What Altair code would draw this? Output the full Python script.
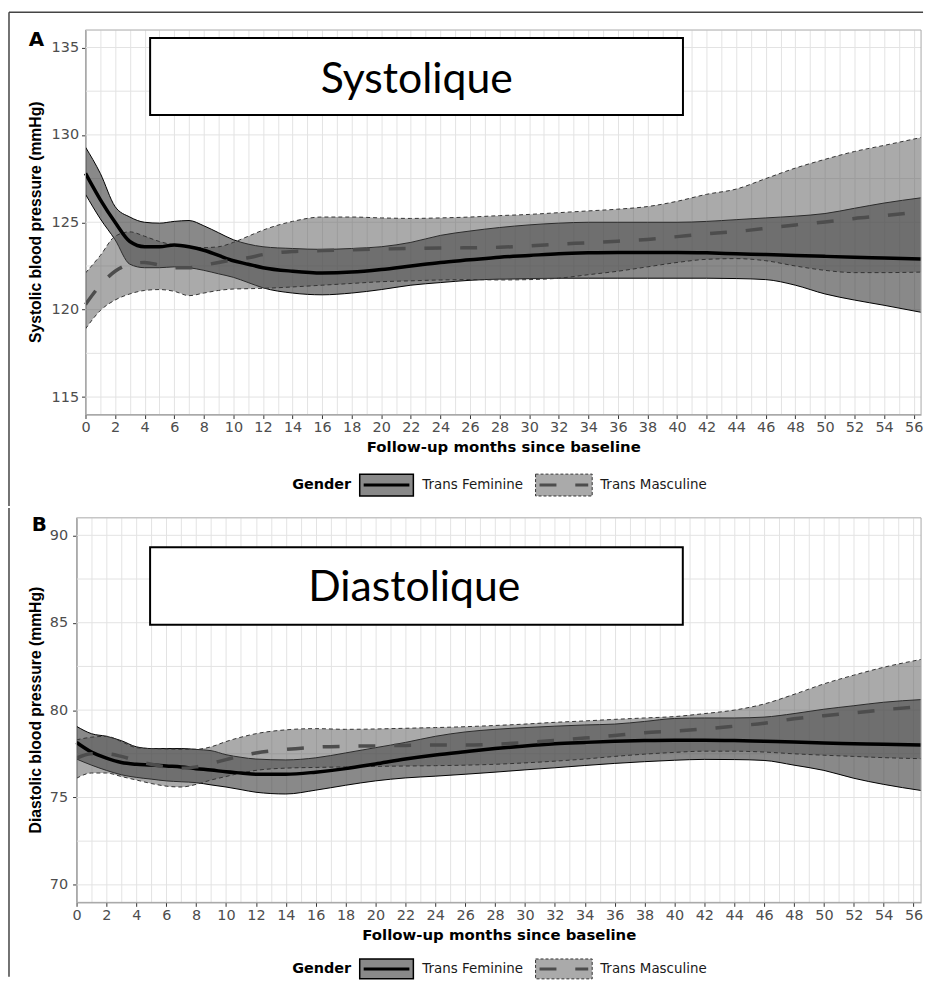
import altair as alt
import pandas as pd

# ---------------- data ----------------
months = [0, 1, 2, 3, 4, 5, 6, 7, 8, 9, 10, 11, 12, 14, 16, 18, 20, 22, 24, 26, 28,
          30, 32, 34, 36, 38, 40, 42, 44, 46, 48, 50, 52, 54, 56.5]

genders = ["Trans Feminine", "Trans Masculine"]
legend_title = "Gender"
x_title = "Follow-up months since baseline"

# Panel A : systolic
a_tf_mean = [127.8, 126.3, 125.0, 123.9, 123.6, 123.6, 123.7, 123.6, 123.4, 123.1, 122.8, 122.6, 122.4,
             122.2, 122.1, 122.15, 122.3, 122.5, 122.7, 122.85, 123.0, 123.1, 123.2, 123.25, 123.27,
             123.27, 123.27, 123.25, 123.2, 123.15, 123.1, 123.05, 123.0, 122.95, 122.9]
a_tf_hi = [129.3, 127.8, 125.9, 125.3, 125.0, 124.95, 125.05, 125.1, 124.8, 124.4, 124.0, 123.75, 123.6,
           123.5, 123.45, 123.5, 123.6, 123.85, 124.25, 124.5, 124.7, 124.85, 124.95, 125.0, 125.0,
           125.0, 125.0, 125.05, 125.15, 125.25, 125.35, 125.5, 125.8, 126.1, 126.4]
a_tf_lo = [126.6, 125.2, 124.0, 122.6, 122.4, 122.4, 122.45, 122.4, 122.25, 122.05, 121.85, 121.55, 121.25,
           120.95, 120.85, 120.95, 121.15, 121.4, 121.55, 121.68, 121.75, 121.78, 121.8, 121.8, 121.8,
           121.8, 121.8, 121.8, 121.78, 121.72, 121.4, 120.9, 120.55, 120.25, 119.85]
a_tm_mean = [120.3, 121.4, 122.2, 122.6, 122.7, 122.55, 122.4, 122.4, 122.55, 122.7, 122.85, 122.97, 123.15,
             123.33, 123.38, 123.43, 123.47, 123.5, 123.53, 123.54, 123.57, 123.65, 123.75, 123.83, 123.92,
             124.02, 124.18, 124.34, 124.47, 124.65, 124.85, 125.02, 125.22, 125.38, 125.6]
a_tm_hi = [122.1, 123.1, 124.2, 124.45, 124.2, 123.9, 123.7, 123.6, 123.55, 123.6, 123.85, 124.2, 124.55,
           125.05, 125.3, 125.3, 125.25, 125.22, 125.25, 125.3, 125.38, 125.45, 125.55, 125.65, 125.75,
           125.9, 126.2, 126.6, 126.9, 127.5, 128.1, 128.6, 129.05, 129.4, 129.85]
a_tm_lo = [118.9, 119.95, 120.55, 120.9, 121.1, 121.15, 121.05, 120.8, 120.95, 121.1, 121.18, 121.2, 121.22,
           121.3, 121.4, 121.5, 121.6, 121.65, 121.7, 121.72, 121.7, 121.72, 121.8, 122.0, 122.2,
           122.45, 122.7, 122.88, 122.92, 122.8, 122.5, 122.25, 122.12, 122.12, 122.15]

# Panel B : diastolic
b_tf_mean = [78.15, 77.6, 77.25, 77.0, 76.9, 76.86, 76.8, 76.75, 76.65, 76.57, 76.47, 76.4, 76.33,
             76.33, 76.45, 76.65, 76.92, 77.2, 77.43, 77.62, 77.8, 77.95, 78.07, 78.15, 78.22,
             78.26, 78.28, 78.28, 78.26, 78.22, 78.18, 78.12, 78.08, 78.04, 78.0]
b_tf_hi = [79.07, 78.65, 78.5, 78.25, 77.9, 77.8, 77.8, 77.8, 77.75, 77.68, 77.45, 77.3, 77.2,
           77.15, 77.27, 77.55, 77.85, 78.15, 78.5, 78.75, 78.9, 79.0, 79.08, 79.15, 79.2,
           79.35, 79.52, 79.55, 79.55, 79.6, 79.8, 80.05, 80.25, 80.45, 80.6]
b_tf_lo = [77.2, 76.85, 76.55, 76.3, 76.15, 76.05, 75.95, 75.9, 75.85, 75.72, 75.6, 75.45, 75.3,
           75.2, 75.42, 75.7, 75.95, 76.12, 76.22, 76.33, 76.45, 76.58, 76.7, 76.83, 76.95,
           77.05, 77.13, 77.18, 77.17, 77.12, 76.85, 76.55, 76.1, 75.75, 75.4]
b_tm_mean = [77.25, 77.5, 77.5, 77.35, 77.1, 76.9, 76.75, 76.68, 76.75, 76.95, 77.17, 77.38, 77.55,
             77.75, 77.88, 77.93, 77.95, 77.98, 78.0, 78.0, 78.05, 78.14, 78.26, 78.4, 78.55,
             78.7, 78.8, 78.92, 79.08, 79.25, 79.5, 79.68, 79.84, 80.02, 80.2]
b_tm_hi = [78.3, 78.45, 78.5, 78.2, 77.85, 77.8, 77.78, 77.76, 77.76, 77.9, 78.2, 78.45, 78.65,
           78.87, 78.94, 78.9, 78.92, 78.96, 79.0, 79.05, 79.12, 79.2, 79.3, 79.38, 79.47,
           79.55, 79.63, 79.8, 80.0, 80.35, 80.9, 81.5, 82.0, 82.45, 82.9]
b_tm_lo = [76.1, 76.4, 76.4, 76.2, 76.0, 75.8, 75.65, 75.6, 75.75, 76.0, 76.2, 76.4, 76.55,
           76.68, 76.72, 76.75, 76.78, 76.8, 76.82, 76.85, 76.9, 76.98, 77.08, 77.2, 77.35,
           77.48, 77.58, 77.65, 77.65, 77.6, 77.5, 77.42, 77.35, 77.28, 77.22]

# annotation boxes (data coordinates)
ann_a = {"x": [4.37], "x2": [40.4], "y": [135.55], "y2": [131.14], "tx": [22.4], "ty": [132.38],
         "label": ["Systolique"]}
ann_b = {"x": [4.92], "x2": [40.56], "y": [89.32], "y2": [84.89], "tx": [22.6], "ty": [86.25],
         "label": ["Diastolique"]}


def long_df(tf_mean, tf_lo, tf_hi, tm_mean, tm_lo, tm_hi):
    rows = []
    for g, mean, lo, hi in ((genders[0], tf_mean, tf_lo, tf_hi), (genders[1], tm_mean, tm_lo, tm_hi)):
        for i, m in enumerate(months):
            rows.append({"month": m, "gender": g, "mean": mean[i], "lo": lo[i], "hi": hi[i]})
    return pd.DataFrame(rows)


df_a = long_df(a_tf_mean, a_tf_lo, a_tf_hi, a_tm_mean, a_tm_lo, a_tm_hi)
df_b = long_df(b_tf_mean, b_tf_lo, b_tf_hi, b_tm_mean, b_tm_lo, b_tm_hi)
one = pd.DataFrame({"k": [0]})

# ---------------- styles ----------------
W, H = 841, 387
TF_FILL, TF_OP = "#333333", 0.58
TM_FILL, TM_OP = "#555555", 0.5
GRID = "#e3e3e3"
GSTYLE = {
    genders[0]: dict(fill=TF_FILL, op=TF_OP, edge="#000000", edash=None, line="#000000", ldash=None),
    genders[1]: dict(fill=TM_FILL, op=TM_OP, edge="#333333", edash=[4, 3], line="#4d4d4d", ldash=[17, 19]),
}


def panel(df, ann, ydom, ylab_step, ytitle, x0, ylab_pad, letter, letter_x, letter_y,
          xtitle_y, leg, frame):
    # x0: left edge of the data rectangle relative to the group origin (<= 0)
    xs = alt.Scale(domain=[0, 56.5], nice=False, zero=False, range=[x0, W])
    ys = alt.Scale(domain=ydom, nice=False, zero=False)
    yvals = []
    v = ydom[0] + 1
    while v <= ydom[1] - 1 + 1e-9:
        yvals.append(round(v, 2))
        v += 2.5
    xaxis = alt.Axis(
        values=list(range(0, 57)),
        labelExpr="datum.value % 2 === 0 ? datum.label : ''",
        tickColor=alt.condition("datum.value % 2 !== 0", alt.value("transparent"), alt.value("#333333")),
        tickSize=4, labelPadding=2, labelFont="DejaVu Sans", labelFontSize=14.5, labelColor="#4d4d4d",
        labelFlush=False, labelOverlap=False, grid=True, gridColor=GRID, gridWidth=1,
        domainColor="#888888", titleFont="DejaVu Sans", titleFontSize=15, titleFontWeight="bold",
        titleColor="#000000", titleBaseline="alphabetic", titleY=xtitle_y)
    yaxis = alt.Axis(
        values=yvals, offset=-x0,
        labelExpr="datum.value %% %d === 0 ? datum.label : ''" % ylab_step,
        tickColor=alt.condition("datum.value %% %d !== 0" % ylab_step, alt.value("transparent"),
                                alt.value("#333333")),
        tickSize=4, labelPadding=ylab_pad, labelFont="DejaVu Sans", labelFontSize=14.5, labelColor="#4d4d4d",
        labelOverlap=False, grid=False, domainColor="#888888")

    def X(f):
        return alt.X(f, type="quantitative", scale=xs, axis=xaxis, title=x_title)

    def Y(f):
        return alt.Y(f, type="quantitative", scale=ys, axis=yaxis, title=None)

    layers = []
    # horizontal grid lines (major and minor) across the data rectangle
    gdf = pd.DataFrame({"gy": yvals})
    layers.append(alt.Chart(gdf).mark_rule(color=GRID, strokeWidth=1)
                  .encode(y=Y("gy"), x=alt.value(x0), x2=alt.value(W)))

    base = alt.Chart(df)
    for g in genders:
        s = GSTYLE[g]
        sub = base.transform_filter(alt.datum.gender == g)
        layers.append(sub.mark_area(interpolate="monotone", color=s["fill"], opacity=s["op"])
                      .encode(x=X("month"), y=Y("lo"), y2=alt.Y2("hi")))
        kw = dict(interpolate="monotone", color=s["edge"], strokeWidth=1)
        if s["edash"]:
            kw["strokeDash"] = s["edash"]
        for f in ("lo", "hi"):
            layers.append(sub.mark_line(**kw).encode(x=X("month"), y=Y(f)))
    for g in genders:
        s = GSTYLE[g]
        sub = base.transform_filter(alt.datum.gender == g)
        kw = dict(interpolate="monotone", color=s["line"], strokeWidth=3.5)
        if s["ldash"]:
            kw["strokeDash"] = s["ldash"]
        layers.append(sub.mark_line(**kw).encode(x=X("month"), y=Y("mean")))

    adf = pd.DataFrame(ann)
    layers.append(alt.Chart(adf).mark_rect(fill="white", stroke="black", strokeWidth=2)
                  .encode(x=X("x"), x2=alt.X2("x2"), y=Y("y"), y2=alt.Y2("y2")))
    layers.append(alt.Chart(adf).mark_text(font="Lato", fontSize=43, align="center",
                                           baseline="alphabetic", color="black")
                  .encode(x=X("tx"), y=Y("ty"), text="label:N"))

    # panel border
    layers.append(alt.Chart(one).mark_rect(fillOpacity=0, stroke="#a8a8a8", strokeWidth=1)
                  .encode(x=alt.value(x0), x2=alt.value(W), y=alt.value(0), y2=alt.value(H)))

    # y axis title
    layers.append(alt.Chart(one).mark_text(text=ytitle, angle=270, font="Liberation Sans", fontWeight="bold",
                                           fontSize=15.8, align="center", baseline="middle", color="black")
                  .encode(x=alt.value(-50), y=alt.value(H / 2)))

    # panel letter
    layers.append(alt.Chart(one).mark_text(text=letter, font="DejaVu Sans", fontWeight="bold", fontSize=20,
                                           align="left", baseline="alphabetic", color="black")
                  .encode(x=alt.value(letter_x), y=alt.value(letter_y)))

    # legend (guide drawn below the panel)
    bx1, bx2, tx1, bx3, bx4, tx2, gx, y1, y2 = leg
    ym = (y1 + y2) / 2
    layers.append(alt.Chart(one).mark_text(text=legend_title, font="DejaVu Sans", fontWeight="bold",
                                           fontSize=14.5, align="left", baseline="middle", color="black")
                  .encode(x=alt.value(gx), y=alt.value(ym)))
    layers.append(alt.Chart(one).mark_rect(fill=TF_FILL, fillOpacity=TF_OP, stroke="black", strokeWidth=1.5)
                  .encode(x=alt.value(bx1), x2=alt.value(bx2), y=alt.value(y1), y2=alt.value(y2)))
    layers.append(alt.Chart(one).mark_rule(color="black", strokeWidth=3)
                  .encode(x=alt.value(bx1 + 4), x2=alt.value(bx2 - 4), y=alt.value(ym)))
    layers.append(alt.Chart(one).mark_text(text=genders[0], font="DejaVu Sans", fontSize=13.5,
                                           align="left", baseline="middle", color="#1a1a1a")
                  .encode(x=alt.value(tx1), y=alt.value(ym)))
    layers.append(alt.Chart(one).mark_rect(fill=TM_FILL, fillOpacity=TM_OP, stroke="#333333", strokeWidth=1,
                                           strokeDash=[3, 2])
                  .encode(x=alt.value(bx3), x2=alt.value(bx4), y=alt.value(y1), y2=alt.value(y2)))
    layers.append(alt.Chart(one).mark_rule(color="#4d4d4d", strokeWidth=3, strokeDash=[17, 19])
                  .encode(x=alt.value(bx3 + 4), x2=alt.value(bx4 - 4), y=alt.value(ym)))
    layers.append(alt.Chart(one).mark_text(text=genders[1], font="DejaVu Sans", fontSize=13.5,
                                           align="left", baseline="middle", color="#1a1a1a")
                  .encode(x=alt.value(tx2), y=alt.value(ym)))

    # outer frame of the figure
    fx, fy1, fy2, ftop_x2 = frame
    layers.append(alt.Chart(one).mark_rule(color="#444444", strokeWidth=1.5)
                  .encode(x=alt.value(fx), y=alt.value(fy1), y2=alt.value(fy2)))
    if ftop_x2 is not None:
        layers.append(alt.Chart(one).mark_rule(color="#444444", strokeWidth=1.5)
                      .encode(x=alt.value(fx), x2=alt.value(ftop_x2), y=alt.value(fy1)))

    return alt.layer(*layers).properties(width=W, height=H)


LEG = (276, 330, 339, 453, 510, 518, 208)
pa = panel(df_a, ann_a, [114, 136], 5, "Systolic blood pressure (mmHg)", 0, 3, "A", -57, 16, 37,
           LEG + (447, 469), (-77, -18, 479, 843))
pb = panel(df_b, ann_b, [69, 91], 5, "Diastolic blood pressure (mmHg)", -9, 5, "B", -54, 13, 37,
           LEG + (444, 464), (-77, -10, 462, None))

chart = alt.ConcatChart(concat=[pa, pb], columns=1, spacing=0, bounds="full",
                        padding=0).configure_view(strokeWidth=0, fill="white")

chart.save("out.html", embed_options={"renderer": "svg", "actions": False})
